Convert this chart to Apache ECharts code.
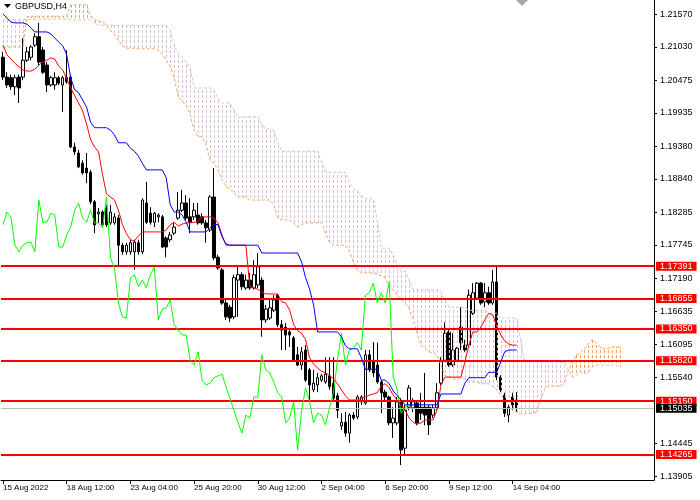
<!DOCTYPE html>
<html>
<head>
<meta charset="utf-8">
<script src="https://cdn.jsdelivr.net/npm/echarts/dist/echarts.min.js"></script>
<style>
html,body{margin:0;padding:0;background:#fff;}
#c{width:700px;height:500px;}
</style>
</head>
<body>
<div id="c"></div>
<script>
// ---- data (GBPUSD H4) ----
const timeLabels = ['15 Aug 2022','18 Aug 12:00','23 Aug 04:00','25 Aug 20:00','30 Aug 12:00','2 Sep 04:00','6 Sep 20:00','9 Sep 12:00','14 Sep 04:00'];

const opens = [
1.2086,1.2053,1.2052,1.2037,1.2053,1.2053,1.2081,1.2086,1.2106,1.2120,
1.2098,1.2073,1.2040,1.2040,1.2052,1.2040,1.2052,1.2053,1.1937,1.1927,
1.1910,1.1902,1.1895,1.1846,1.1826,1.1829,1.1836,1.1811,1.1811,1.1819,
1.1774,1.1763,1.1763,1.1763,1.1778,1.1763,1.1844,1.1827,1.1812,1.1821,
1.1821,1.1786,1.1783,1.1794,1.1819,1.1832,1.1844,1.1821,1.1821,1.1824,
1.1821,1.1811,1.1799,1.1854,1.1754,1.1733,1.1678,1.1671,1.1655,1.1716,
1.1725,1.1703,1.1716,1.1703,1.1708,1.1716,1.1650,1.1653,1.1666,1.1691,
1.1642,1.1638,1.1630,1.1620,1.1592,1.1575,1.1600,1.1567,1.1534,1.1542,
1.1550,1.1547,1.1557,1.1545,1.1524,1.1474,1.1480,1.1462,1.1492,1.1489,
1.1514,1.1512,1.1592,1.1583,1.1575,1.1547,1.1530,1.1522,1.1479,1.1479,
1.1514,1.1437,1.1505,1.1504,1.1512,1.1505,1.1505,1.1505,1.1492,1.1504,
1.1545,1.1583,1.1630,1.1575,1.1583,1.1638,1.1608,1.1608,1.1661,1.1686,
1.1711,1.1680,1.1695,1.1678,1.1713,1.1555,1.1525,1.1492,1.1522,1.1517];

const closes = [
1.2053,1.2040,1.2037,1.2052,1.2035,1.2081,1.2095,1.2103,1.2120,1.2078,
1.2061,1.2040,1.2052,1.2052,1.2043,1.2052,1.2045,1.1937,1.1929,1.1904,
1.1894,1.1894,1.1846,1.1808,1.1829,1.1808,1.1808,1.1829,1.1821,1.1774,
1.1763,1.1774,1.1778,1.1779,1.1763,1.1849,1.1812,1.1812,1.1827,1.1824,
1.1771,1.1771,1.1791,1.1804,1.1832,1.1844,1.1819,1.1812,1.1832,1.1811,
1.1811,1.1803,1.1854,1.1753,1.1736,1.1678,1.1655,1.1653,1.1720,1.1725,
1.1705,1.1716,1.1703,1.1725,1.1738,1.1650,1.1668,1.1670,1.1683,1.1642,
1.1633,1.1625,1.1625,1.1583,1.1575,1.1597,1.1550,1.1542,1.1545,1.1554,
1.1557,1.1560,1.1539,1.1520,1.1500,1.1480,1.1462,1.1492,1.1487,1.1522,
1.1522,1.1592,1.1567,1.1562,1.1547,1.1529,1.1522,1.1479,1.1487,1.1514,
1.1434,1.1500,1.1537,1.1514,1.1479,1.1495,1.1492,1.1476,1.1504,1.1529,
1.1583,1.1628,1.1575,1.1600,1.1603,1.1612,1.1600,1.1691,1.1695,1.1711,
1.1678,1.1695,1.1678,1.1713,1.1555,1.1534,1.1495,1.1505,1.1509,1.15035];

const lows = [
1.2048,1.2035,1.2032,1.2023,1.2010,1.2048,1.2078,1.2081,1.2103,1.2073,
1.2058,1.2028,1.2037,1.2032,1.2040,1.1995,1.2042,1.1935,1.1924,1.1902,
1.1891,1.1877,1.1842,1.1794,1.1811,1.1803,1.1804,1.1808,1.1808,1.1741,
1.1758,1.1758,1.1758,1.1733,1.1758,1.1759,1.1809,1.1808,1.1804,1.1812,
1.1769,1.1754,1.1779,1.1791,1.1816,1.1829,1.1816,1.1794,1.1816,1.1808,
1.1808,1.1778,1.1796,1.1749,1.1733,1.1675,1.1650,1.1646,1.1651,1.1655,
1.1700,1.1700,1.1700,1.1700,1.1703,1.1622,1.1645,1.1650,1.1663,1.1638,
1.1600,1.1600,1.1605,1.1580,1.1573,1.1567,1.1547,1.1514,1.1530,1.1530,
1.1547,1.1544,1.1534,1.1514,1.1487,1.1467,1.1456,1.1446,1.1484,1.1485,
1.1509,1.1509,1.1563,1.1555,1.1544,1.1495,1.1517,1.1475,1.1454,1.1475,
1.1409,1.1426,1.1500,1.1497,1.1475,1.1484,1.1475,1.1459,1.1487,1.1500,
1.1542,1.1580,1.1572,1.1572,1.1580,1.1600,1.1597,1.1605,1.1658,1.1683,
1.1675,1.1671,1.1675,1.1675,1.1550,1.1530,1.1489,1.1480,1.1500,1.1497];

const highs = [
1.2095,1.2061,1.2057,1.2057,1.2057,1.2118,1.2103,1.2106,1.2126,1.2143,
1.2103,1.2078,1.2055,1.2061,1.2055,1.2055,1.2098,1.2057,1.1944,1.1932,
1.1915,1.1927,1.1899,1.1849,1.1836,1.1832,1.1841,1.1841,1.1827,1.1824,
1.1778,1.1778,1.1783,1.1783,1.1783,1.1852,1.1879,1.1837,1.1829,1.1827,
1.1824,1.1789,1.1796,1.1812,1.1862,1.1866,1.1857,1.1852,1.1844,1.1844,
1.1827,1.1816,1.1857,1.1902,1.1758,1.1736,1.1683,1.1675,1.1725,1.1741,
1.1729,1.1725,1.1728,1.1749,1.1761,1.1721,1.1675,1.1683,1.1691,1.1693,
1.1650,1.1645,1.1633,1.1623,1.1605,1.1605,1.1608,1.1570,1.1567,1.1562,
1.1560,1.1588,1.1588,1.1588,1.1529,1.1495,1.1497,1.1495,1.1497,1.1525,
1.1525,1.1600,1.1600,1.1613,1.1612,1.1550,1.1534,1.1524,1.1505,1.1522,
1.1520,1.1509,1.1542,1.1520,1.1517,1.1529,1.1562,1.1509,1.1509,1.1545,
1.1588,1.1646,1.1633,1.1628,1.1605,1.1671,1.1617,1.1700,1.1711,1.1713,
1.1713,1.1711,1.1705,1.1733,1.1738,1.1558,1.1529,1.1509,1.1529,1.1530];

// Ichimoku lines
const tenkan = [
1.2106,1.2090,1.2083,1.2076,1.2070,1.2065,1.2063,1.2063,1.2066,1.2073,
1.2078,1.2081,1.2085,1.2083,1.2071,1.2065,1.2050,1.2035,1.2022,1.2010,
1.1997,1.1975,1.1949,1.1937,1.1929,1.1891,1.1859,1.1854,1.1849,1.1832,
1.1808,1.1793,1.1783,1.1781,1.1789,1.1796,1.1796,1.1796,1.1796,1.1796,
1.1796,1.1799,1.1808,1.1812,1.1806,1.1809,1.1811,1.1811,1.1812,1.1814,
1.1821,1.1821,1.1821,1.1819,1.1811,1.1791,1.1774,1.1774,1.1774,1.1774,
1.1774,1.1774,1.1705,1.1703,1.1701,1.1696,1.1693,1.1693,1.1693,1.1693,
1.1680,1.1678,1.1666,1.1642,1.1632,1.1628,1.1617,1.1587,1.1577,1.1570,
1.1565,1.1562,1.1558,1.1552,1.1544,1.1534,1.1524,1.1517,1.1517,1.1517,
1.1520,1.1522,1.1525,1.1527,1.1529,1.1540,1.1544,1.1537,1.1525,1.1517,
1.1509,1.1500,1.1487,1.1480,1.1477,1.1479,1.1484,1.1484,1.1484,1.1500,
1.1542,1.1555,1.1555,1.1555,1.1555,1.1555,1.1580,1.1608,1.1630,1.1630,
1.1638,1.1650,1.1661,1.1658,1.1640,1.1625,1.1615,1.1610,1.1608,1.1608];

const kijun = [
1.2158,1.2151,1.2144,1.2143,1.2143,1.2143,1.2141,1.2135,1.2128,1.2128,
1.2128,1.2128,1.2125,1.2118,1.2111,1.2105,1.2090,1.2052,1.2032,1.2027,
1.2015,1.2003,1.1978,1.1969,1.1969,1.1969,1.1969,1.1965,1.1957,1.1944,
1.1944,1.1944,1.1935,1.1930,1.1922,1.1910,1.1899,1.1899,1.1899,1.1899,
1.1899,1.1886,1.1841,1.1829,1.1829,1.1824,1.1812,1.1796,1.1796,1.1796,
1.1796,1.1796,1.1803,1.1809,1.1808,1.1788,1.1776,1.1774,1.1774,1.1774,
1.1774,1.1774,1.1774,1.1774,1.1774,1.1761,1.1761,1.1761,1.1761,1.1761,
1.1761,1.1761,1.1761,1.1761,1.1761,1.1746,1.1720,1.1701,1.1675,1.1630,
1.1630,1.1630,1.1630,1.1630,1.1630,1.1622,1.1607,1.1602,1.1602,1.1602,
1.1587,1.1568,1.1568,1.1568,1.1568,1.1550,1.1550,1.1544,1.1532,1.1524,
1.1517,1.1509,1.1509,1.1509,1.1509,1.1509,1.1509,1.1509,1.1509,1.1509,
1.1527,1.1527,1.1527,1.1527,1.1527,1.1527,1.1545,1.1554,1.1554,1.1554,
1.1554,1.1554,1.1563,1.1563,1.1563,1.1580,1.1597,1.1600,1.1600,1.1600];

const chikou = [
1.1808,1.1829,1.1821,1.1774,1.1763,1.1774,1.1778,1.1779,1.1763,1.1849,
1.1812,1.1812,1.1827,1.1824,1.1771,1.1771,1.1791,1.1804,1.1832,1.1844,
1.1819,1.1812,1.1832,1.1811,1.1811,1.1803,1.1854,1.1753,1.1736,1.1678,
1.1655,1.1653,1.1720,1.1725,1.1705,1.1716,1.1703,1.1725,1.1738,1.1650,
1.1668,1.1670,1.1683,1.1642,1.1633,1.1625,1.1625,1.1583,1.1575,1.1597,
1.1550,1.1542,1.1545,1.1554,1.1557,1.1560,1.1539,1.1520,1.1500,1.1480,
1.1462,1.1492,1.1487,1.1522,1.1522,1.1592,1.1567,1.1562,1.1547,1.1529,
1.1522,1.1479,1.1487,1.1514,1.1434,1.1500,1.1537,1.1514,1.1479,1.1495,
1.1492,1.1476,1.1504,1.1529,1.1583,1.1628,1.1575,1.1600,1.1603,1.1612,
1.1600,1.1691,1.1695,1.1711,1.1678,1.1695,1.1678,1.1713,1.1555,1.1534,
1.1495,1.1505,1.1509,1.15035];

const spanA = [
1.2103,1.2103,1.2103,1.2103,1.2103,1.2103,1.2153,1.2154,1.2154,1.2154,
1.2154,1.2154,1.2154,1.2154,1.2154,1.2154,1.2154,1.2173,1.2173,1.2173,
1.2173,1.2173,1.2154,1.2148,1.2146,1.2144,1.2139,1.2130,1.2123,1.2113,
1.2105,1.2101,1.2101,1.2101,1.2100,1.2100,1.2100,1.2100,1.2100,1.2098,
1.2090,1.2081,1.2071,1.2052,1.2020,1.2013,1.2007,1.1990,1.1965,1.1954,
1.1954,1.1940,1.1915,1.1909,1.1899,1.1882,1.1872,1.1866,1.1861,1.1854,
1.1854,1.1854,1.1849,1.1849,1.1849,1.1849,1.1849,1.1849,1.1841,1.1819,
1.1816,1.1816,1.1816,1.1811,1.1804,1.1808,1.1811,1.1811,1.1811,1.1811,
1.1812,1.1793,1.1779,1.1774,1.1774,1.1774,1.1774,1.1764,1.1746,1.1733,
1.1728,1.1728,1.1728,1.1728,1.1726,1.1723,1.1720,1.1705,1.1700,1.1691,
1.1683,1.1678,1.1668,1.1650,1.1628,1.1608,1.1602,1.1597,1.1595,1.1592,
1.1575,1.1558,1.1555,1.1552,1.1552,1.1552,1.1552,1.1547,1.1547,1.1547,
1.1544,1.1544,1.1544,1.1539,1.1534,1.1525,1.1517,1.1509,1.1500,1.1497,
1.1494,1.1494,1.1494,1.1495,1.1497,1.1517,1.1535,1.1540,1.1540,1.1540,
1.1540,1.1545,1.1567,1.1580,1.1592,1.1595,1.1602,1.1610,1.1617,1.1612,
1.1605,1.1602,1.1603,1.1605,1.1605,1.1605];

const spanB = [
1.2148,1.2148,1.2148,1.2148,1.2148,1.2148,1.2149,1.2149,1.2149,1.2149,
1.2149,1.2149,1.2149,1.2149,1.2149,1.2149,1.2149,1.2148,1.2148,1.2148,
1.2148,1.2148,1.2148,1.2143,1.2139,1.2139,1.2139,1.2139,1.2139,1.2139,
1.2139,1.2139,1.2139,1.2139,1.2139,1.2139,1.2139,1.2139,1.2139,1.2139,
1.2139,1.2139,1.2131,1.2106,1.2091,1.2086,1.2078,1.2068,1.2035,1.2035,
1.2035,1.2035,1.2035,1.2030,1.2018,1.2010,1.2010,1.2010,1.1998,1.1987,
1.1987,1.1987,1.1987,1.1987,1.1987,1.1975,1.1967,1.1967,1.1964,1.1945,
1.1930,1.1930,1.1930,1.1930,1.1930,1.1930,1.1930,1.1930,1.1930,1.1930,
1.1912,1.1897,1.1895,1.1895,1.1895,1.1895,1.1895,1.1877,1.1869,1.1864,
1.1856,1.1851,1.1851,1.1851,1.1816,1.1769,1.1769,1.1769,1.1758,1.1741,
1.1731,1.1731,1.1716,1.1700,1.1700,1.1700,1.1700,1.1700,1.1700,1.1700,
1.1696,1.1683,1.1671,1.1671,1.1671,1.1671,1.1671,1.1666,1.1666,1.1666,
1.1666,1.1666,1.1661,1.1661,1.1661,1.1653,1.1653,1.1653,1.1653,1.1653,
1.1617,1.1580,1.1580,1.1580,1.1580,1.1580,1.1580,1.1580,1.1580,1.1580,
1.1580,1.1580,1.1567,1.1555,1.1558,1.1563,1.1560,1.1563,1.1572,1.1575,
1.1575,1.1575,1.1575,1.1575,1.1575,1.1572];

const levels = [1.17391, 1.16855, 1.16350, 1.15820, 1.15150, 1.14265];
const bid = 1.15035;
const priceTicks = [1.21570,1.21030,1.20475,1.19935,1.19380,1.18840,1.18285,1.17745,1.17190,1.16635,1.16095,1.15540,1.14445,1.13905];

// ---- chart ----
const NCAT = 164;
const cats = Array.from({length: NCAT}, (_, k) => String(k));
const FONT = 'Liberation Sans';

const candleData = opens.map((o, k) => [o, closes[k], lows[k], highs[k]]);
const cloudData = spanA.map((a, k) => [k, a, spanB[k]]);

const chart = echarts.init(document.getElementById('c'), null, {renderer: 'canvas'});

function lvlLabel(bg) {
  return {show: true, position: 'end', distance: 2, formatter: p => Number(p.value).toFixed(5),
          color: '#ffffff', backgroundColor: bg, padding: [0, 4, 0, 4],
          fontSize: 9, lineHeight: 9, fontFamily: FONT};
}
const levelLines = levels.map(v => ({
  yAxis: v,
  lineStyle: {color: '#ff0000', width: 2, type: 'solid'},
  label: lvlLabel('#ff0000')
}));
levelLines.push({
  yAxis: bid,
  lineStyle: {color: '#c0c0c0', width: 1, type: 'solid'},
  label: lvlLabel('#000000')
});

const option = {
  animation: false,
  backgroundColor: '#ffffff',
  grid: {left: 0, right: 46, top: 0, bottom: 20, containLabel: false},
  xAxis: {
    type: 'category',
    data: cats,
    boundaryGap: true,
    axisLine: {show: true, lineStyle: {color: '#000', width: 1}},
    axisTick: {show: true, alignWithLabel: true, length: 4, lineStyle: {color: '#000'},
               interval: (idx) => idx % 16 === 0 && idx / 16 < timeLabels.length},
    axisLabel: {
      interval: (idx) => idx % 16 === 0 && idx / 16 < timeLabels.length,
      formatter: (v, idx) => timeLabels[idx / 16] || '',
      align: 'left', margin: 4, color: '#000', fontSize: 8, fontFamily: FONT
    },
    splitLine: {show: false}
  },
  yAxis: {
    type: 'value',
    position: 'right',
    min: 1.13842,
    max: 1.2181,
    scale: true,
    axisLine: {show: true, lineStyle: {color: '#000', width: 1}},
    axisTick: {show: true, length: 3, lineStyle: {color: '#000'}, customValues: priceTicks},
    axisLabel: {customValues: priceTicks, formatter: v => v.toFixed(5), margin: 6,
                color: '#000', fontSize: 9, fontFamily: FONT},
    splitLine: {show: false}
  },
  series: [
    {
      type: 'candlestick',
      data: candleData,
      barWidth: 3,
      z: 2,
      silent: true,
      itemStyle: {color: '#ffffff', color0: '#000000', borderColor: '#000000', borderColor0: '#000000', borderWidth: 1}
    },
    {
      type: 'custom',
      data: cloudData,
      z: 3,
      silent: true,
      encode: {x: 0, y: [1, 2]},
      renderItem: function (params, api) {
        const k = api.value(0), a = api.value(1), b = api.value(2);
        const pa = api.coord([k, a]);
        const pb = api.coord([k, b]);
        const top = Math.min(pa[1], pb[1]);
        const bot = Math.max(pa[1], pb[1]);
        const x = Math.round(pa[0]) + 0.5;
        return {
          type: 'line',
          shape: {x1: x, y1: top, x2: x, y2: bot},
          style: {stroke: a > b ? '#F4A460' : '#D8BFD8', lineWidth: 1, lineDash: [3, 2], lineDashOffset: top % 5}
        };
      }
    },
    {type: 'line', data: spanA, z: 4, silent: true, symbol: 'none',
     lineStyle: {color: '#F4A460', width: 1, type: [3, 2]}},
    {type: 'line', data: spanB, z: 4, silent: true, symbol: 'none',
     lineStyle: {color: '#D8BFD8', width: 1, type: [3, 2]}},
    {type: 'line', data: chikou, z: 5, silent: true, symbol: 'none',
     lineStyle: {color: '#00FF00', width: 1}},
    {type: 'line', data: tenkan, z: 5, silent: true, symbol: 'none',
     lineStyle: {color: '#FF0000', width: 1}},
    {type: 'line', data: kijun, z: 5, silent: true, symbol: 'none',
     lineStyle: {color: '#0000FF', width: 1}},
    {type: 'line', data: [], z: 10, silent: true, symbol: 'none',
     markLine: {silent: true, precision: 5, symbol: ['none', 'none'], animation: false, data: levelLines}}
  ],
  graphic: [
    {type: 'polygon', shape: {points: [[4, 4], [11, 4], [7.5, 8]]}, style: {fill: '#000'}, z: 20},
    {type: 'text', left: 15, top: 2, style: {text: 'GBPUSD,H4', fill: '#000', font: '9px "Liberation Sans"'}, z: 20},
    {type: 'polygon', shape: {points: [[516, 0], [528, 0], [522, 6]]}, style: {fill: '#a8a8a8'}, z: 20}
  ]
};
chart.setOption(option);
</script>
</body>
</html>
